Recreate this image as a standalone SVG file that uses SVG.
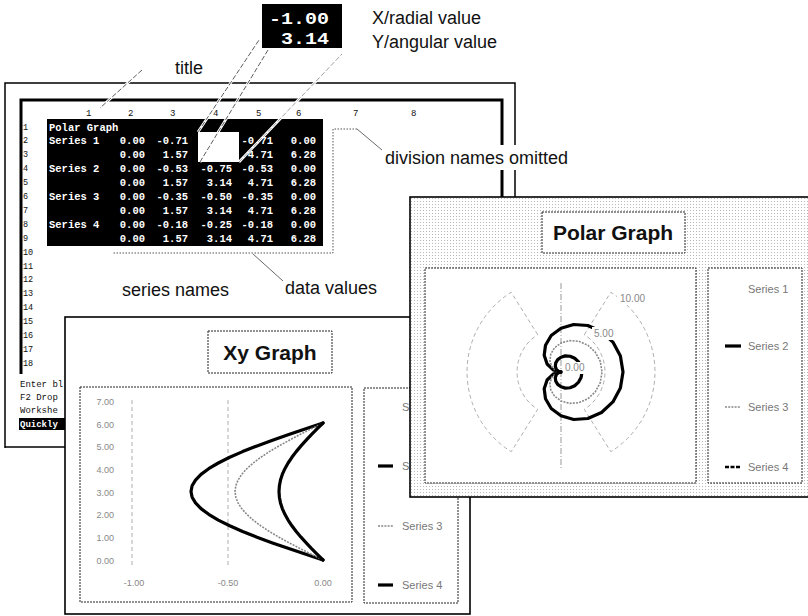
<svg xmlns="http://www.w3.org/2000/svg" width="808" height="616" viewBox="0 0 808 616">
<style>
.lbl{font-family:"Liberation Sans",Arial,sans-serif;font-size:18px;fill:#111}
.mono{font-family:"Liberation Mono","DejaVu Sans Mono",monospace;font-weight:bold;font-size:10.5px;fill:#fff}
.big{font-family:"Liberation Mono","DejaVu Sans Mono",monospace;font-weight:bold;font-size:17px;fill:#fff}
.sm{font-family:"Liberation Mono","DejaVu Sans Mono",monospace;font-size:9px;fill:#111}
.ax{font-family:"Liberation Sans",Arial,sans-serif;font-size:9px;fill:#888}
.leg{font-family:"Liberation Sans",Arial,sans-serif;font-size:11px;fill:#777}
.gt{font-family:"Liberation Sans",Arial,sans-serif;font-size:21px;font-weight:bold;fill:#111}
.lead{stroke:#333;stroke-width:0.8;fill:none;stroke-dasharray:5 2}
.halo{stroke:#fff;stroke-width:2.6;fill:none}
.dotl{stroke:#444;stroke-width:0.9;stroke-dasharray:1.5 1.5;fill:none}
.box{fill:#fff;stroke:#222;stroke-width:1;stroke-dasharray:2 1}
.grid{stroke:#999;stroke-width:0.8;fill:none;stroke-dasharray:4 3}
.thick{stroke:#000;stroke-width:3.2;fill:none;stroke-linejoin:round;stroke-linecap:round}
.s3{stroke:#888;stroke-width:1.6;fill:none;stroke-dasharray:2 1.2}
.win{stroke:#000;stroke-width:1.6}
</style>
<defs>
<pattern id="stip" width="3" height="3" patternUnits="userSpaceOnUse"><rect width="3" height="3" fill="#fff"/><rect width="1" height="1" fill="#b8b8b8"/></pattern>
</defs>
<rect width="808" height="616" fill="#fff"/>

<!-- callout -->
<g id="callout">
<rect x="262" y="4" width="80" height="44" fill="#000"/>
<text class="big" x="269" y="24" textLength="60" lengthAdjust="spacingAndGlyphs">-1.00</text>
<text class="big" x="281" y="44" textLength="48" lengthAdjust="spacingAndGlyphs">3.14</text>
</g>
<text class="lbl" x="372" y="24">X/radial value</text>
<text class="lbl" x="372" y="48">Y/angular value</text>
<text class="lbl" x="175" y="74">title</text>

<!-- spreadsheet window -->
<g id="spreadsheet">
<path d="M5,448 L5,83 L515,83 L515,198" fill="none" stroke="#000" stroke-width="1.5"/>
<path d="M5,447 L66,447" stroke="#000" stroke-width="1.5"/>
<path d="M21,374 L21,100 L502,100 L502,198" fill="none" stroke="#000" stroke-width="3"/>
<g class="sm">
<text x="86" y="116">1</text><text x="128" y="116">2</text><text x="170" y="116">3</text><text x="213" y="116">4</text><text x="256" y="116">5</text><text x="296" y="116">6</text><text x="353" y="116">7</text><text x="411" y="116">8</text>
</g>
<g class="sm" style="font-size:8.5px">
<text x="23" y="129.5">1</text><text x="23" y="143.4">2</text><text x="23" y="157.3">3</text><text x="23" y="171.2">4</text><text x="23" y="185.1">5</text><text x="23" y="199">6</text><text x="23" y="212.9">7</text><text x="23" y="226.8">8</text><text x="23" y="240.7">9</text><text x="23" y="254.6">10</text><text x="23" y="268.5">11</text><text x="23" y="282.4">12</text><text x="23" y="296.3">13</text><text x="23" y="310.2">14</text><text x="23" y="324.1">15</text><text x="23" y="338">16</text><text x="23" y="351.9">17</text><text x="23" y="365.8">18</text>
</g>
<rect x="47" y="119" width="276" height="127" fill="#000"/>
<rect x="198" y="132" width="41" height="30" fill="#fff"/>
<g class="mono">
<text x="49" y="130.5">Polar Graph</text>
<text x="49" y="144.4">Series 1</text>
<text x="49" y="172.2">Series 2</text>
<text x="49" y="200">Series 3</text>
<text x="49" y="227.8">Series 4</text>
</g>
<g class="mono" text-anchor="end">
<text x="145" y="144.4">0.00</text><text x="188" y="144.4">-0.71</text><text x="273" y="144.4">-0.71</text><text x="316" y="144.4">0.00</text>
<text x="145" y="158.3">0.00</text><text x="188" y="158.3">1.57</text><text x="273" y="158.3">4.71</text><text x="316" y="158.3">6.28</text>
<text x="145" y="172.2">0.00</text><text x="188" y="172.2">-0.53</text><text x="232" y="172.2">-0.75</text><text x="273" y="172.2">-0.53</text><text x="316" y="172.2">0.00</text>
<text x="145" y="186.1">0.00</text><text x="188" y="186.1">1.57</text><text x="232" y="186.1">3.14</text><text x="273" y="186.1">4.71</text><text x="316" y="186.1">6.28</text>
<text x="145" y="200">0.00</text><text x="188" y="200">-0.35</text><text x="232" y="200">-0.50</text><text x="273" y="200">-0.35</text><text x="316" y="200">0.00</text>
<text x="145" y="213.9">0.00</text><text x="188" y="213.9">1.57</text><text x="232" y="213.9">3.14</text><text x="273" y="213.9">4.71</text><text x="316" y="213.9">6.28</text>
<text x="145" y="227.8">0.00</text><text x="188" y="227.8">-0.18</text><text x="232" y="227.8">-0.25</text><text x="273" y="227.8">-0.18</text><text x="316" y="227.8">0.00</text>
<text x="145" y="241.7">0.00</text><text x="188" y="241.7">1.57</text><text x="232" y="241.7">3.14</text><text x="273" y="241.7">4.71</text><text x="316" y="241.7">6.28</text>
</g>
<g class="sm">
<text x="20" y="387">Enter bl</text>
<text x="20" y="400">F2 Drop</text>
<text x="20" y="413">Workshe</text>
<rect x="19" y="418" width="47" height="12" fill="#000"/>
<text x="20" y="427" style="fill:#fff;font-weight:bold">Quickly</text>
</g>
</g>

<!-- leader lines -->
<g id="connectors">
<path class="halo" d="M142,70 L100,108 M198,132 L259,40 M200,162 L268,50 M239,162 L342,54"/>
<path class="lead" d="M142,70 L100,108 M198,132 L259,40 M200,162 L268,50"/>
<path class="lead" d="M239,162 L342,54" style="stroke:#888"/>
<path class="dotl" d="M357,129 L333,129 L333,253 L113,253"/>
<path d="M357,129 L382,150 M253,254 L283,281" stroke="#444" stroke-width="0.8" fill="none"/>
</g>

<rect x="382" y="145" width="204" height="25" fill="#fff"/>
<text class="lbl" x="385" y="164">division names omitted</text>
<text class="lbl" x="122" y="296">series names</text>
<text class="lbl" x="285" y="294">data values</text>

<!-- Xy graph window -->
<g id="xy-graph">
<rect class="win" x="65" y="317" width="405" height="297" fill="#fff"/>
<rect class="box" x="208" y="331" width="124" height="42"/>
<text class="gt" x="270" y="360" text-anchor="middle">Xy Graph</text>
<rect class="box" x="80" y="387" width="272" height="215"/>
<g class="ax" text-anchor="end">
<text x="114" y="405">7.00</text><text x="114" y="428">6.00</text><text x="114" y="450">5.00</text><text x="114" y="473">4.00</text><text x="114" y="496">3.00</text><text x="114" y="518">2.00</text><text x="114" y="541">1.00</text><text x="114" y="564">0.00</text>
</g>
<g class="ax" text-anchor="middle">
<text x="134" y="586">-1.00</text><text x="228" y="586">-0.50</text><text x="323" y="586">0.00</text>
</g>
<path class="grid" d="M132,400 L132,566 M228,400 L228,566"/>
<polyline class="thick" points="323,560 305.8,554.3 288.8,548.6 272.5,542.9 257,537.2 242.6,531.5 229.7,525.8 218.3,520.1 208.7,514.3 201,508.6 195.5,502.9 192.1,497.2 191,491.5 192.1,485.8 195.5,480.1 201,474.4 208.7,468.7 218.3,463 229.7,457.3 242.6,451.6 257,445.9 272.5,440.2 288.8,434.4 305.8,428.7 323,423"/>
<polyline class="s3" points="323,560 311.5,554.3 300.2,548.6 289.3,542.9 279,537.2 269.4,531.5 260.8,525.8 253.2,520.1 246.8,514.3 241.7,508.6 238,502.9 235.8,497.2 235,491.5 235.8,485.8 238,480.1 241.7,474.4 246.8,468.7 253.2,463 260.8,457.3 269.4,451.6 279,445.9 289.3,440.2 300.2,434.4 311.5,428.7 323,423"/>
<polyline class="thick" points="323,560 317.3,554.3 311.6,548.6 306.2,542.9 301,537.2 296.2,531.5 291.9,525.8 288.1,520.1 284.9,514.3 282.3,508.6 280.5,502.9 279.4,497.2 279,491.5 279.4,485.8 280.5,480.1 282.3,474.4 284.9,468.7 288.1,463 291.9,457.3 296.2,451.6 301,445.9 306.2,440.2 311.6,434.4 317.3,428.7 323,423"/>
<rect class="box" x="364" y="388" width="94" height="215"/>
<text class="leg" x="402" y="411">S</text>
<line x1="378" y1="466" x2="393" y2="466" stroke="#000" stroke-width="3.2"/>
<text class="leg" x="402" y="470">S</text>
<line class="s3" x1="378" y1="526" x2="393" y2="526"/>
<text class="leg" x="402" y="530">Series 3</text>
<line x1="378" y1="585" x2="393" y2="585" stroke="#000" stroke-width="3.2"/>
<text class="leg" x="402" y="589">Series 4</text>
</g>

<!-- Polar graph window -->
<g id="polar-graph">
<rect class="win" x="410" y="197" width="402" height="300" fill="url(#stip)"/>
<rect class="box" x="542" y="212" width="143" height="41"/>
<text class="gt" x="613" y="240" text-anchor="middle">Polar Graph</text>
<rect class="box" x="425" y="268" width="271" height="215"/>
<path class="grid" d="M584.3,334.7 L610.8,292.3 A94,94 0 0,1 610.8,451.7 L584.3,409.3 A44,44 0 0,0 584.3,334.7 Z M537.7,334.7 L511.2,292.3 A94,94 0 0,0 511.2,451.7 L537.7,409.3 A44,44 0 0,1 537.7,334.7 Z"/>
<line x1="561" y1="283" x2="561" y2="468" stroke="#999" stroke-width="1" stroke-dasharray="6 2 1 2"/>
<path class="thick" d="M561,372 L553.2,369.9 547.1,364 544.2,355.2 545.5,345.2 551.2,335.5 561,328.2 573.7,324.5 587.8,325.5 601.5,331.5 612.9,342.1 620.4,356.1 623,372 620.4,387.9 612.9,401.9 601.5,412.5 587.8,418.5 573.7,419.5 561,415.8 551.2,408.5 545.5,398.8 544.2,388.8 547.1,380 553.2,374.1 561,372"/>
<path class="s3" d="M561,372 L555.8,370.6 551.8,366.7 549.9,360.9 550.75,354.2 554.5,347.9 561,343 569.4,340.6 578.8,341.25 587.8,345.2 595.3,352.2 600.3,361.5 602,372 600.3,382.5 595.3,391.8 587.8,398.8 578.8,402.75 569.4,403.4 561,401 554.5,396.1 550.75,389.8 549.9,383.1 551.8,377.3 555.8,373.4 561,372"/>
<path class="thick" d="M561,372 L558.35,371.3 556.3,369.3 555.3,366.3 555.75,362.9 557.7,359.65 561,357.2 565.3,355.9 570.1,356.25 574.7,358.3 578.6,361.9 581.1,366.6 582,372 581.1,377.4 578.6,382.1 574.7,385.7 570.1,387.75 565.3,388.1 561,386.8 557.7,384.35 555.75,381.1 555.3,377.7 556.3,374.7 558.35,372.7 561,372"/>
<rect x="617" y="292" width="40" height="13" fill="#fff"/>
<text class="ax" x="620" y="302" style="font-size:10px">10.00</text>
<rect x="592" y="327" width="26" height="13" fill="#fff"/>
<text class="ax" x="594" y="337" style="font-size:10px">5.00</text>
<rect x="563" y="362" width="24" height="12" fill="#fff"/>
<text class="ax" x="565" y="371" style="font-size:10px">0.00</text>
<rect class="box" x="708" y="268" width="94" height="215"/>
<text class="leg" x="748" y="293">Series 1</text>
<line x1="725" y1="346" x2="741" y2="346" stroke="#000" stroke-width="3.2"/>
<text class="leg" x="748" y="350">Series 2</text>
<line class="s3" x1="725" y1="407" x2="741" y2="407"/>
<text class="leg" x="748" y="411">Series 3</text>
<line x1="725" y1="467" x2="741" y2="467" stroke="#000" stroke-width="2.6" stroke-dasharray="4 1.5"/>
<text class="leg" x="748" y="471">Series 4</text>
</g>
</svg>
